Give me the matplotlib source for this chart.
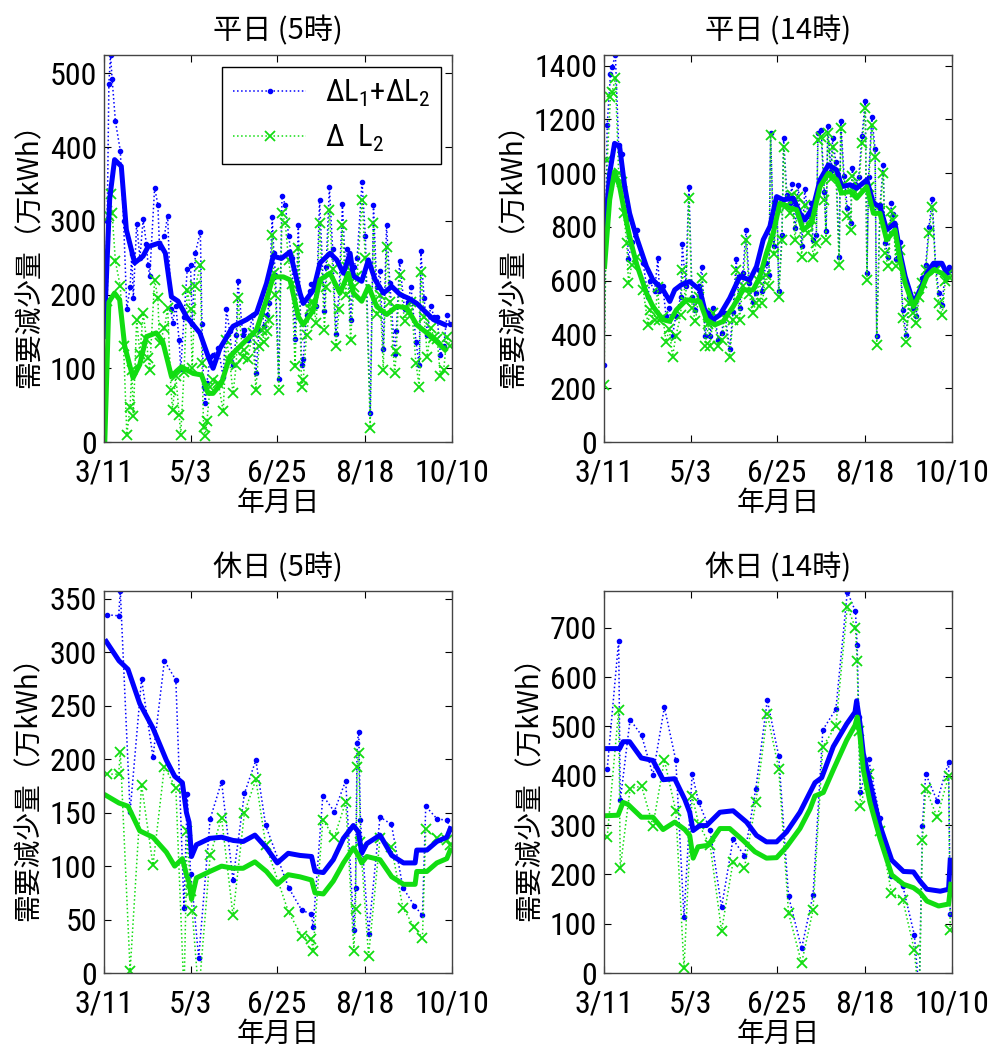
import matplotlib
matplotlib.use('Agg')
import matplotlib.pyplot as plt
from matplotlib import font_manager
from matplotlib.font_manager import FontProperties

# x axis: days counted from 3/11 (2011)
tick_days = [0, 53, 106, 160, 213]
tick_labels = ['3/11', '5/3', '6/25', '8/18', '10/10']

# ---------------- weekday 5h ----------------
wd5_day = [0, 2, 3, 4, 5, 7, 10, 12, 14, 16, 17, 18, 20, 22, 24, 26, 27, 28, 31, 33,
           34, 37, 39, 41, 42, 44, 46, 47, 49, 51, 53, 54, 56, 59, 60, 61, 62, 63, 65, 67,
           70, 73, 75, 77, 79, 81, 82, 85, 86, 88, 91, 93, 95, 97, 98, 100, 101, 103, 104, 105,
           107, 109, 111, 113, 115, 117, 119, 121, 122, 124, 126, 127, 128, 130, 132, 135, 136, 138, 140, 142,
           144, 146, 148, 149, 151, 153, 155, 158, 160, 163, 165, 167, 169, 171, 173, 175, 178, 179, 181, 184,
           186, 188, 191, 193, 194, 196, 198, 200, 202, 204, 206, 208, 210, 212]
wd5_dl2 = [185, 191, 306, 337, 310, 245, 211, 130, 10, 48, 98, 35, 166, 120, 175, 140, 114, 98, 220, 195,
           134, 154, 182, 71, 44, 90, 37, 10, 95, 206, 180, 100, 211, 240, 107, 21, 8, 28, 75, 84,
           80, 42, 139, 110, 66, 105, 195, 116, 125, 112, 148, 71, 130, 152, 136, 150, 165, 281, 229, 200,
           71, 310, 297, 247, 215, 103, 263, 75, 84, 145, 180, 190, 190, 161, 297, 152, 210, 315, 235, 130,
           180, 294, 200, 238, 139, 210, 225, 328, 250, 19, 297, 173, 200, 98, 265, 190, 93, 123, 227, 164,
           175, 190, 107, 75, 231, 170, 116, 155, 143, 140, 89, 98, 143, 130]
wd5_sum = [150, 300, 485, 525, 492, 435, 395, 300, 180, 210, 255, 195, 296, 250, 302, 268, 240, 225, 345, 322,
           265, 280, 307, 180, 162, 185, 138, 99, 170, 235, 240, 160, 257, 285, 160, 74, 53, 80, 115, 118,
           127, 88, 180, 150, 105, 145, 219, 145, 152, 138, 172, 94, 152, 174, 158, 172, 188, 305, 257, 226,
           86, 333, 322, 280, 250, 140, 294, 105, 112, 172, 205, 215, 215, 185, 328, 178, 238, 346, 262, 147,
           207, 323, 226, 262, 165, 238, 250, 353, 280, 39, 321, 210, 232, 126, 294, 216, 120, 150, 245, 180,
           190, 210, 136, 104, 259, 195, 145, 185, 170, 170, 118, 130, 172, 160]
wd5_sm_day_b = [0, 3.5, 6.5, 10.6, 13.7, 18.8, 23.9, 27, 34, 37.6, 41.3, 45.4, 50.5, 58.7, 63.8, 66.8, 71, 79,
                87.3, 93.4, 97.5, 99.5, 103.6, 108.7, 113.9, 120, 122, 128.2, 132.3, 138.4, 142.5, 146.6,
                150.7, 152.7, 157.8, 161.9, 166, 171.1, 176.2, 181.3, 186.4, 191.5, 196.6, 201.8, 208.9]
wd5_sm_b = [143, 330, 383, 374, 288, 243, 252, 265, 270, 256, 197, 191, 170, 148, 116, 100, 127, 157,
            166, 175, 202, 215, 252, 249, 258, 202, 188, 206, 243, 256, 247, 229,
            256, 225, 218, 247, 220, 202, 211, 200, 195, 188, 177, 166, 159]
wd5_sm_day_g = [0.5, 3, 6.5, 9.6, 12.7, 17.8, 21.9, 26, 32, 36, 41.3, 44.4, 47.4, 54.6, 59.7, 63.8, 66.8, 72,
                77, 85.2, 93.4, 99.5, 103.6, 109.8, 113.9, 119, 122, 128.2, 132.3, 138.4, 144.5, 149.6,
                152.7, 157.8, 161.9, 167, 173.1, 179.3, 185.4, 191.5, 197.7, 203.8, 208.9]
wd5_sm_g = [0, 190, 202, 193, 130, 87, 105, 143, 148, 136, 89, 96, 102, 93, 91, 66, 66, 80,
            116, 134, 152, 193, 224, 224, 220, 170, 159, 179, 220, 229, 202, 229,
            202, 191, 211, 184, 173, 184, 182, 159, 148, 136, 125]

# ---------------- weekday 14h ----------------
wd14_day = [0, 2, 4, 5, 7, 9, 11, 12, 14, 15, 17, 20, 24, 27, 28, 31, 33, 34, 36, 38,
            40, 42, 44, 47, 48, 50, 52, 54, 56, 58, 60, 62, 64, 65, 67, 70, 72, 74, 77, 79,
            81, 83, 85, 87, 89, 91, 93, 95, 97, 99, 101, 102, 104, 106, 107, 109, 110, 112, 114, 115,
            117, 119, 121, 123, 125, 127, 128, 130, 131, 133, 135, 136, 137, 139, 140, 142, 144, 145, 147, 149,
            151, 152, 154, 156, 158, 160, 161, 162, 164, 166, 167, 169, 171, 172, 174, 176, 177, 179, 181, 183,
            185, 187, 189, 191, 193, 195, 197, 199, 201, 203, 205, 207, 209, 211, 212]
wd14_dl2 = [213, 1049, 1285, 1303, 1353, 1000, 969, 851, 740, 591, 659, 690, 566, 436, 492, 455, 575, 455, 467, 374,
            420, 318, 393, 473, 641, 520, 907, 500, 449, 540, 610, 356, 440, 356, 480, 356, 380, 460, 318, 455,
            641, 455, 580, 752, 550, 480, 517, 600, 517, 620, 579, 1142, 700, 870, 541, 752, 1099, 880, 851, 920,
            752, 913, 690, 880, 777, 830, 690, 740, 1124, 1136, 900, 752, 1149, 980, 1099, 1000, 659, 1167, 960, 839,
            789, 988, 930, 950, 1111, 1241, 603, 950, 1180, 1062, 362, 860, 1000, 703, 653, 860, 826, 653, 715, 461,
            374, 517, 480, 442, 540, 591, 640, 777, 876, 640, 517, 473, 600, 628, 610]
wd14_sum = [287, 1180, 1370, 1395, 1440, 1105, 1070, 950, 830, 680, 745, 790, 665, 540, 600, 560, 684, 560, 580, 470,
            500, 395, 470, 540, 735, 580, 950, 540, 490, 580, 650, 395, 480, 395, 500, 380, 405, 480, 345, 485,
            680, 500, 630, 790, 590, 520, 555, 640, 560, 665, 620, 1150, 730, 885, 560, 770, 1130, 920, 890, 960,
            795, 955, 730, 940, 840, 890, 750, 770, 1150, 1160, 930, 785, 1175, 1010, 1130, 1040, 690, 1195, 990, 870,
            815, 1020, 960, 985, 1140, 1270, 630, 985, 1210, 1090, 395, 880, 1030, 740, 690, 890, 850, 680, 745, 490,
            400, 540, 500, 470, 560, 610, 660, 800, 905, 660, 555, 510, 640, 650, 640]
wd14_sm_day_b = [0.4, 3.5, 6.5, 9.6, 12.7, 15.7, 19.8, 26, 30, 36.2, 40.3, 43.3, 47.4, 52.5, 58.7, 61.7, 66.8,
                 71, 77, 83.2, 89.3, 93.4, 97.5, 101.6, 105.7, 109.8, 115.9, 120, 123, 128.2, 132.3, 137.4,
                 142.5, 145.5, 150.7, 154.7, 160.9, 165, 169, 173.1, 178.2, 181.3, 184.4, 189.5, 193.6, 197.7,
                 201.8, 206.9, 209.9]
wd14_sm_b = [777, 1000, 1111, 1099, 950, 851, 764, 653, 603, 566, 523, 566, 585, 597, 566, 492, 455,
             473, 535, 616, 603, 653, 752, 802, 913, 901, 907, 851, 826, 876, 975, 1031,
             1012, 950, 957, 944, 975, 888, 876, 789, 814, 703, 616, 517, 566, 628,
             665, 665, 628]
wd14_sm_day_g = [0.4, 3.5, 6.5, 9.6, 12.7, 15.7, 19.8, 26, 30, 36.2, 40.3, 44.4, 50.5, 58.7, 62.8, 67.9, 73,
                 79.1, 85.2, 91.4, 95.5, 99.5, 103.6, 107.7, 113.9, 118, 122, 127.1, 132.3, 137.4, 142.5,
                 145.5, 150.7, 154.7, 160.9, 165, 169, 173.1, 178.2, 181.3, 184.4, 189.5, 193.6, 197.7,
                 201.8, 206.9, 209.9]
wd14_sm_g = [653, 901, 1006, 950, 851, 764, 665, 554, 504, 455, 449, 492, 529, 523, 455, 436, 449,
             504, 566, 566, 616, 703, 777, 888, 870, 864, 789, 814, 950, 1000, 975,
             926, 932, 907, 950, 851, 851, 752, 789, 678, 591, 504, 554, 616,
             641, 628, 610]

# ---------------- holiday 5h ----------------
hd5_day = [2, 9, 10, 16, 23, 30, 37, 44, 49, 51, 53, 54, 58, 65, 72, 79, 86, 93, 99, 113,
           121, 127, 128, 134, 141, 148, 153, 154, 155, 156, 157, 162, 169, 176, 183, 190, 195, 197, 204, 210, 212]
hd5_sum = [335, 334, 357, 151, 275, 202, 292, 274, 61, 167, 93, 80, 14, 144, 179, 87, 168, 199, 138, 80,
           59, 55, 43, 166, 151, 180, 40, 80, 215, 225, 143, 37, 146, 139, 80, 63, 54, 156, 144, 143, 135]
hd5_dl2 = [186, 186, 207, 2, 176, 101, 193, 173, -20, 133, 77, 58, -20, 110, 145, 54, 150, 181, 120, 57,
           35, 32, 21, 143, 127, 160, 21, 60, 193, 206, 123, 16, 126, 118, 61, 43, 33, 135, 126, 124, 120]
hd5_sm_day = [1.4, 9.2, 14.7, 21.9, 30, 38.2, 43.3, 48, 50.5, 52.1, 53.6, 56.6, 64.8, 72, 79.1, 85.2, 92.4,
              99.5, 106.1, 112.8, 120, 127.1, 129.2, 134.3, 140.4, 146.6, 152.7, 155.8, 157.8, 160.9,
              169, 176.2, 183.4, 190.5, 191.5, 197.7, 203.8, 209.9, 212]
hd5_sm_b = [310, 292, 284, 252, 229, 199, 184, 178, 150, 141, 109, 120, 126, 127, 124, 123, 129,
            117, 103, 112, 110, 109, 95, 94, 106, 126, 138, 132, 112, 121,
            129, 110, 103, 103, 115, 115, 123, 127, 135]
hd5_sm_g = [166, 159, 156, 133, 127, 113, 100, 107, 92, 85, 69, 89, 95, 100, 98, 98, 104,
            95, 83, 92, 90, 87, 75, 74, 86, 103, 117, 110, 103, 109,
            106, 90, 83, 83, 95, 95, 103, 107, 115]

# ---------------- holiday 14h ----------------
hd14_day = [2, 9, 10, 16, 23, 30, 37, 44, 49, 54, 58, 65, 72, 79, 86, 93, 100, 107, 113, 121,
            128, 134, 142, 149, 154, 155, 156, 157, 162, 169, 176, 183, 190, 193, 195, 197, 204, 211, 212]
hd14_sum = [414, 674, 350, 514, 482, 402, 539, 431, 114, 404, 346, 290, 133, 271, 238, 374, 553, 440, 156, 50,
            158, 493, 535, 773, 733, 665, 520, 367, 434, 314, 196, 176, 78, -40, 299, 404, 349, 428, 120]
hd14_dl2 = [276, 533, 213, 374, 379, 299, 432, 328, 10, 359, 302, 259, 86, 225, 213, 346, 525, 414, 122, 20,
            128, 459, 501, 743, 699, 633, 490, 338, 404, 289, 163, 148, 47, -60, 269, 374, 316, 399, 88]
hd14_sm_day_b = [1.4, 9.6, 11.7, 15.7, 22.9, 30, 36.2, 43.3, 49.5, 52.5, 54.6, 58.7, 62.8, 71, 79.1, 87.3,
                 93.4, 99.5, 105.7, 111.8, 120, 126.1, 129.2, 133.3, 140.4, 148.6, 153.7, 154.7, 156.8,
                 158.8, 162.9, 169, 176.2, 183.4, 189.5, 193.6, 197.7, 205.9, 211, 212]
hd14_sm_b = [455, 455, 469, 469, 436, 431, 392, 394, 352, 326, 289, 299, 299, 326, 329, 306,
             279, 266, 266, 286, 326, 366, 386, 396, 459, 505, 529, 552, 505,
             445, 386, 299, 229, 206, 205, 186, 170, 166, 170, 229]
hd14_sm_day_g = [1.4, 8.6, 11.7, 14.7, 22.9, 30, 36.2, 43.3, 49.5, 52.5, 54.6, 57.6, 63.8, 71, 77, 85.2,
                 92.4, 99.5, 105.7, 111.8, 120, 126.1, 129.2, 134.3, 140.4, 148.6, 153.7, 155.1, 156.8,
                 158.8, 162.9, 169, 176.2, 183.4, 189.5, 193.6, 197.7, 204.9, 211, 212.4]
hd14_sm_g = [319, 320, 346, 342, 316, 316, 291, 306, 291, 279, 233, 256, 259, 293, 293, 269,
             246, 233, 234, 256, 293, 332, 359, 366, 412, 472, 502, 519, 479,
             412, 346, 273, 199, 180, 173, 163, 146, 136, 140, 180]


# fonts: look for a narrow sans for the numbers, MATLAB style
narrow_file = None
for f in font_manager.fontManager.ttflist:
    fn = f.fname.lower()
    if ('narrow' in fn or 'condensed' in fn) and 'bold' not in fn and 'italic' not in fn \
            and 'oblique' not in fn:
        narrow_file = f.fname
        if 'liberation' in fn:
            break
if narrow_file:
    num_prop = FontProperties(fname=narrow_file, size=23)
    leg_prop = FontProperties(fname=narrow_file, size=22)
else:
    num_prop = FontProperties(family='Liberation Sans', size=19)
    leg_prop = FontProperties(family='Liberation Sans', size=18)
jp_font = ['Noto Sans CJK JP', 'DejaVu Sans']
plt.rcParams['mathtext.default'] = 'regular'

BLUE = '#0000ff'
GREEN = '#11dd11'

fig = plt.figure(figsize=(9.94, 10.52), dpi=100)

panels = [
    ([0.1046, 0.5798, 0.350, 0.368], '平日 (5時)', wd5_day, wd5_sum, wd5_dl2,
     (wd5_sm_day_b, wd5_sm_b), (wd5_sm_day_g, wd5_sm_g), 525, range(0, 501, 100)),
    ([0.6076, 0.5798, 0.350, 0.368], '平日 (14時)', wd14_day, wd14_sum, wd14_dl2,
     (wd14_sm_day_b, wd14_sm_b), (wd14_sm_day_g, wd14_sm_g), 1440, range(0, 1401, 200)),
    ([0.1046, 0.0750, 0.350, 0.363], '休日 (5時)', hd5_day, hd5_sum, hd5_dl2,
     (hd5_sm_day, hd5_sm_b), (hd5_sm_day, hd5_sm_g), 357, range(0, 351, 50)),
    ([0.6076, 0.0750, 0.350, 0.363], '休日 (14時)', hd14_day, hd14_sum, hd14_dl2,
     (hd14_sm_day_b, hd14_sm_b), (hd14_sm_day_g, hd14_sm_g), 774, range(0, 701, 100)),
]

for i, (pos, title, day, s, d2, smb, smg, ytop, yt) in enumerate(panels):
    ax = fig.add_axes(pos)
    l1, = ax.plot(day, s, ':', color=BLUE, marker='.', ms=6, lw=1.1,
                  label='ΔL$_1$+ΔL$_2$')
    l2, = ax.plot(day, d2, ':', color=GREEN, marker='x', ms=7, mew=1.3, lw=1.1,
                  label='Δ  L$_2$')
    ax.plot(smb[0], smb[1], '-', color=BLUE, lw=3.6, solid_joinstyle='round')
    ax.plot(smg[0], smg[1], '-', color=GREEN, lw=3.6, solid_joinstyle='round')

    ax.set_xlim(0, 213)
    ax.set_ylim(0, ytop)
    ax.set_xticks(tick_days)
    ax.set_xticklabels(tick_labels)
    ax.set_yticks(list(yt))
    ax.tick_params(direction='in', top=True, right=True, length=5, width=0.8, pad=5)
    ax.tick_params(axis='x', pad=12)
    for lab in ax.get_xticklabels() + ax.get_yticklabels():
        lab.set_fontproperties(num_prop)
    for sp in ax.spines.values():
        sp.set_color('#444444')
        sp.set_linewidth(1.0)

    ax.set_title(title, fontsize=21, family=jp_font, pad=11)
    ax.set_xlabel('年月日', fontsize=20, family=jp_font, labelpad=0)
    ax.set_ylabel('需要減少量（万kWh）', fontsize=20, family=jp_font, labelpad=4)

    if i == 0:
        leg = ax.legend(handles=[l1, l2], loc='upper right', bbox_to_anchor=(0.968, 0.969),
                        borderaxespad=0, fancybox=False, framealpha=1, edgecolor='black',
                        handlelength=2.4, prop=leg_prop,
                        borderpad=0.35, labelspacing=0.45, handletextpad=0.6)
        leg.get_frame().set_linewidth(1.0)

fig.savefig('out.png', dpi=100, facecolor='white')
